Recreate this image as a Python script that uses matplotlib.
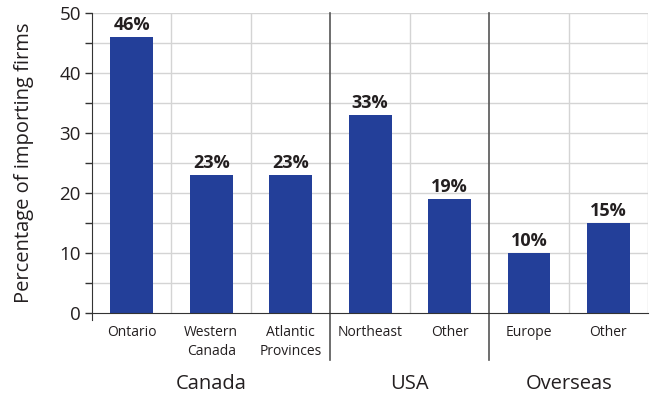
import matplotlib.pyplot as plt
import numpy as np

CATEGORIES = ['Ontario', 'Western\nCanada', 'Atlantic\nProvinces', 'Northeast', 'Other', 'Europe', 'Other']
VALUES = [46, 23, 23, 33, 19, 10, 15]
GROUPS = ['Canada', 'USA', 'Overseas']
GROUP_SIZES = [3, 2, 2]

BAR_COLOR = '#233f99'
GRID_COLOR = '#d4d4d4'
DIVIDER_COLOR = '#555555'
TEXT_COLOR = '#231f20'

plt.rcParams['font.family'] = ['Open Sans', 'DejaVu Sans']

fig = plt.figure(figsize=(6.54, 4.01), dpi=100)
ax = fig.add_axes([0.1407, 0.2195, 0.8503, 0.7481])

x = np.arange(len(VALUES))
ax.bar(x, VALUES, width=0.54, color=BAR_COLOR, zorder=3)

for xi, v in zip(x, VALUES):
    ax.text(xi, v + 0.5, f'{v}%', ha='center', va='bottom', fontsize=13,
            fontweight='bold', color=TEXT_COLOR, zorder=4)

ax.set_xlim(-0.5, len(VALUES) - 0.5)
ax.set_ylim(0, 50)

# horizontal grid every 5, vertical grid between categories
for yv in np.arange(5, 51, 5):
    ax.axhline(yv, color=GRID_COLOR, lw=1, zorder=1)
bounds = np.cumsum(GROUP_SIZES)[:-1] - 0.5
for xv in np.arange(0.5, len(VALUES), 1):
    if xv in bounds:
        continue
    ax.axvline(xv, color=GRID_COLOR, lw=1, zorder=1)

# darker dividers between the groups, running down past the labels
for xv in bounds:
    ax.plot([xv, xv], [-7.8, 50], color=DIVIDER_COLOR, lw=1.2, clip_on=False, zorder=2)

for s in ['top', 'right']:
    ax.spines[s].set_visible(False)
ax.spines['left'].set_color('#333333')
ax.spines['bottom'].set_color('#333333')
ax.spines['left'].set_bounds(-1.2, 50)
ax.spines['left'].set_zorder(5)
ax.spines['bottom'].set_zorder(5)

ax.set_yticks(np.arange(0, 51, 10))
ax.set_yticks(np.arange(5, 50, 10), minor=True)
ax.tick_params(axis='y', which='both', direction='out', length=5, width=1,
               color='#333333', labelsize=13.5, labelcolor=TEXT_COLOR, pad=3)
ax.set_xticks(x)
ax.set_xticklabels(CATEGORIES, fontsize=10, color=TEXT_COLOR, linespacing=1.3)
ax.tick_params(axis='x', length=0, pad=9)

ax.set_ylabel('Percentage of importing firms', fontsize=14.5, color=TEXT_COLOR, labelpad=18)

start = 0
for name, size in zip(GROUPS, GROUP_SIZES):
    center = start + (size - 1) / 2
    ax.text(center, -11.8, name, ha='center', va='center', fontsize=14.5,
            color=TEXT_COLOR, clip_on=False)
    start += size

fig.savefig('out.png', dpi=100)
